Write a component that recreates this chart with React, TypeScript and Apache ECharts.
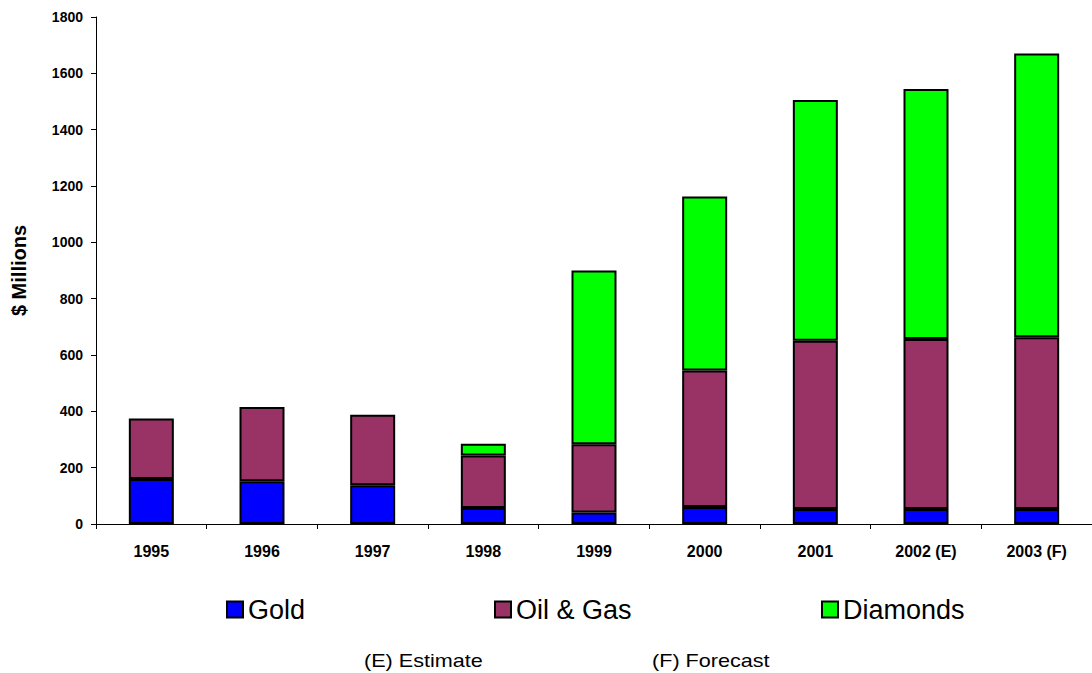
import React, { useEffect, useRef } from "react";
import * as echarts from "echarts";

const categories = ["1995", "1996", "1997", "1998", "1999", "2000", "2001", "2002 (E)", "2003 (F)"];
const gold = [160, 152, 138, 57, 41, 60, 53, 53, 53];
const oilGas = [215, 263, 250, 186, 242, 485, 598, 604, 610];
const diamonds = [null, null, null, 42, 617, 618, 854, 887, 1007];
const yTicks = { min: 0, max: 1800, interval: 200 };
const footnotes = ["(E) Estimate", "(F) Forecast"];

const FONT = "'Liberation Sans', Arial, sans-serif";

export default function App() {
  const ref = useRef<HTMLDivElement>(null);
  useEffect(() => {
    document.body.style.margin = "0";
    if (!ref.current) return;
    const chart = echarts.init(ref.current, null, { renderer: "svg" });
    const mk = (name: string, data: (number | null)[], color: string) => ({
      name,
      type: "bar",
      stack: "total",
      data,
      barWidth: 45,
      itemStyle: { color, borderColor: "#000", borderWidth: 2 },
    });
    const legendBase = {
      top: 591,
      itemWidth: 16,
      itemHeight: 16,
      itemGap: 0,
      textStyle: { fontFamily: FONT, fontSize: 27, color: "#000" },
      icon: "rect",
      itemStyle: { borderColor: "#000", borderWidth: 2 },
      selectedMode: false,
    };
    chart.setOption({
      animation: false,
      backgroundColor: "#fff",
      textStyle: { fontFamily: FONT },
      grid: { left: 96, right: -8, top: 17, bottom: 149, containLabel: false },
      legend: [
        { ...legendBase, left: 221, data: ["Gold"] },
        { ...legendBase, left: 489, data: ["Oil & Gas"] },
        { ...legendBase, left: 816, data: ["Diamonds"] },
      ],
      xAxis: {
        type: "category",
        data: categories,
        boundaryGap: true,
        axisLine: { lineStyle: { color: "#000", width: 1 } },
        axisTick: { show: true, length: 5, inside: false, lineStyle: { color: "#000" } },
        axisLabel: { color: "#000", fontWeight: "bold", fontSize: 16, margin: 19, fontFamily: FONT, interval: 0 },
      },
      yAxis: {
        type: "value",
        min: yTicks.min,
        max: yTicks.max,
        interval: yTicks.interval,
        name: "$ Millions",
        nameLocation: "middle",
        nameRotate: 90,
        nameGap: 67,
        nameTextStyle: { color: "#000", fontWeight: "bold", fontSize: 20, fontFamily: FONT },
        axisLine: { show: true, lineStyle: { color: "#000", width: 1 } },
        axisTick: { show: true, length: 5, lineStyle: { color: "#000" } },
        axisLabel: {
          color: "#000",
          fontWeight: "bold",
          fontSize: 14,
          margin: 13,
          fontFamily: FONT,
          formatter: (v: number) => String(v),
        },
        splitLine: { show: false },
      },
      graphic: [
        { type: "text", x: 364, y: 661, scaleX: 1.2, style: { text: footnotes[0], font: `18px ${FONT}`, fill: "#000", verticalAlign: "middle" } },
        { type: "text", x: 652, y: 661, scaleX: 1.2, style: { text: footnotes[1], font: `18px ${FONT}`, fill: "#000", verticalAlign: "middle" } },
      ],
      series: [
        mk("Gold", gold, "#0000FF"),
        mk("Oil & Gas", oilGas, "#993366"),
        mk("Diamonds", diamonds, "#00FF00"),
      ],
    });
    return () => chart.dispose();
  }, []);
  return <div ref={ref} style={{ width: 1092, height: 673 }} />;
}
